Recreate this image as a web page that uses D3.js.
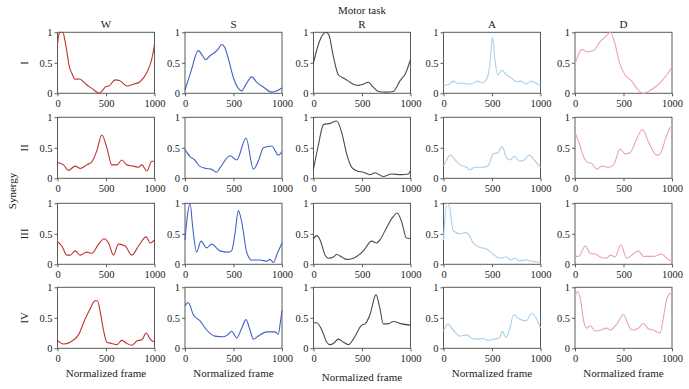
<!DOCTYPE html>
<html><head><meta charset="utf-8">
<script src="https://cdn.jsdelivr.net/npm/d3@7"></script>
<style>
body{margin:0;background:#fff;}
svg{display:block;font-family:"Liberation Serif","DejaVu Serif",serif;}
</style></head>
<body><svg id="chart" width="689" height="389"></svg>
<script>
// ---- data (frame, activation) ----
const tasks = ["W", "S", "R", "A", "D"];
const synergies = ["I", "II", "III", "IV"];
const xTicks = [0, 500, 1000];
const xTickLabels = ["0", "500", "1000"];
const yTicks = [0, 0.5, 1];
const yTickLabels = ["0", "0.5", "1"];
const taskColors = ["#c0332e", "#3f63c4", "#4a4a4a", "#a9d0ec", "#eba1b9"];

const W_I = [[0,0.8],[15,0.97],[30,1],[55,1],[75,0.88],[100,0.65],[120,0.45],[150,0.32],[182,0.23],[230,0.235],[260,0.2],[300,0.14],[354,0.08],[405,0.02],[430,0],[470,0.06],[500,0.11],[530,0.12],[595,0.22],[640,0.21],[715,0.12],[784,0.15],[850,0.19],[921,0.34],[973,0.57],[1000,0.8]];
const S_I = [[0,0.05],[60,0.35],[137,0.7],[180,0.62],[213,0.55],[260,0.62],[300,0.66],[340,0.72],[378,0.8],[410,0.75],[450,0.55],[500,0.25],[550,0.08],[584,0.04],[630,0.15],[687,0.27],[740,0.18],[810,0.1],[893,0.02],[950,0.04],[1000,0.09]];
const R_I = [[0,0.5],[50,0.8],[100,0.97],[130,1],[160,0.95],[205,0.6],[257,0.3],[308,0.25],[360,0.2],[411,0.15],[470,0.13],[514,0.15],[565,0.18],[616,0.1],[668,0.03],[753,0.02],[822,0.03],[890,0.2],[950,0.33],[1000,0.55]];
const A_I = [[0,0.13],[50,0.14],[100,0.2],[150,0.16],[200,0.17],[250,0.15],[300,0.16],[350,0.2],[400,0.17],[450,0.25],[480,0.5],[505,0.92],[530,0.55],[560,0.3],[600,0.38],[650,0.3],[700,0.25],[750,0.19],[800,0.2],[850,0.15],[900,0.2],[950,0.17],[1000,0.12]];
const D_I = [[0,0.48],[40,0.65],[72,0.72],[123,0.68],[192,0.7],[260,0.85],[329,0.95],[363,1.0],[414,0.8],[459,0.5],[517,0.3],[586,0.2],[637,0.08],[700,0],[757,0.03],[825,0.1],[894,0.2],[945,0.3],[1000,0.43]];

const W_II = [[0,0.26],[62,0.22],[113,0.13],[182,0.2],[234,0.16],[302,0.22],[354,0.27],[405,0.45],[457,0.71],[509,0.5],[560,0.22],[612,0.22],[663,0.3],[715,0.22],[784,0.2],[835,0.18],[870,0.22],[921,0.12],[973,0.28],[1000,0.28]];
const S_II = [[0,0.47],[50,0.36],[100,0.3],[150,0.2],[223,0.16],[270,0.15],[326,0.1],[361,0.17],[464,0.37],[533,0.3],[629,0.66],[705,0.15],[760,0.3],[808,0.5],[894,0.53],[962,0.38],[1000,0.44]];
const R_II = [[0,0.15],[51,0.55],[103,0.88],[171,0.9],[240,0.94],[291,0.75],[342,0.4],[394,0.18],[450,0.12],[514,0.1],[582,0.06],[634,0.09],[719,0.03],[805,0.07],[908,0.06],[976,0.07],[1000,0.13]];
const A_II = [[0,0.2],[30,0.3],[70,0.38],[120,0.3],[170,0.22],[238,0.18],[272,0.14],[323,0.18],[408,0.18],[459,0.2],[510,0.4],[561,0.42],[605,0.52],[646,0.35],[687,0.3],[731,0.36],[782,0.28],[833,0.3],[884,0.38],[935,0.3],[1000,0.18]];
const D_II = [[0,0.75],[38,0.6],[89,0.35],[123,0.27],[175,0.24],[226,0.15],[277,0.2],[346,0.18],[397,0.22],[466,0.48],[517,0.4],[568,0.42],[637,0.65],[695,0.8],[757,0.6],[842,0.38],[877,0.4],[945,0.7],[986,0.83],[1000,0.83]];

const W_III = [[0,0.37],[45,0.3],[96,0.15],[131,0.15],[182,0.22],[234,0.15],[302,0.2],[354,0.18],[423,0.33],[481,0.42],[526,0.35],[577,0.15],[629,0.33],[698,0.3],[766,0.15],[835,0.3],[914,0.45],[955,0.35],[1000,0.4]];
const S_III = [[0,0.4],[25,0.8],[52,1.0],[80,0.6],[120,0.2],[165,0.38],[223,0.27],[275,0.33],[361,0.22],[447,0.2],[480,0.22],[515,0.5],[550,0.88],[584,0.7],[636,0.2],[687,0.07],[773,0.07],[842,0.05],[876,0.08],[911,0.03],[952,0.18],[1000,0.35]];
const R_III = [[0,0.42],[34,0.47],[68,0.4],[120,0.15],[154,0.1],[205,0.12],[240,0.16],[291,0.12],[342,0.08],[411,0.1],[514,0.22],[599,0.38],[651,0.35],[685,0.4],[753,0.6],[822,0.78],[863,0.84],[908,0.7],[959,0.43],[1000,0.42]];
const A_III = [[0,0.4],[15,0.75],[35,1.0],[60,0.95],[100,0.55],[170,0.5],[221,0.52],[255,0.5],[306,0.35],[374,0.28],[442,0.25],[510,0.17],[578,0.1],[646,0.12],[697,0.07],[731,0.1],[782,0.06],[850,0.07],[918,0.05],[1000,0.03]];
const D_III = [[0,0.13],[38,0.13],[106,0.3],[158,0.18],[209,0.17],[260,0.12],[329,0.1],[363,0.15],[414,0.12],[473,0.32],[534,0.1],[586,0.15],[654,0.22],[705,0.13],[808,0.13],[894,0.17],[945,0.1],[1000,0.05]];

const W_IV = [[0,0.13],[62,0.07],[131,0.1],[216,0.22],[285,0.48],[337,0.65],[388,0.78],[412,0.78],[440,0.6],[474,0.3],[509,0.1],[560,0.08],[612,0.06],[663,0.13],[715,0.08],[766,0.05],[818,0.12],[870,0.14],[914,0.25],[955,0.15],[1000,0.1]];
const S_IV = [[0,0.7],[34,0.75],[86,0.55],[155,0.45],[223,0.3],[309,0.2],[395,0.19],[440,0.22],[481,0.28],[533,0.17],[584,0.33],[629,0.47],[670,0.3],[705,0.15],[756,0.2],[842,0.27],[928,0.27],[962,0.23],[985,0.45],[1000,0.62]];
const R_IV = [[0,0.42],[34,0.42],[86,0.3],[137,0.1],[171,0.06],[205,0.08],[257,0.15],[308,0.1],[360,0.06],[411,0.15],[497,0.38],[531,0.4],[582,0.55],[644,0.88],[685,0.65],[719,0.4],[771,0.4],[822,0.44],[908,0.4],[1000,0.38]];
const A_IV = [[0,0.28],[45,0.4],[100,0.3],[170,0.2],[238,0.22],[289,0.17],[357,0.15],[408,0.16],[459,0.13],[527,0.15],[578,0.17],[605,0.28],[646,0.18],[680,0.3],[724,0.55],[782,0.48],[850,0.45],[911,0.57],[969,0.45],[1000,0.33]];
const D_IV = [[0,0.85],[27,0.93],[62,0.75],[89,0.45],[123,0.33],[158,0.37],[209,0.28],[260,0.3],[329,0.33],[363,0.3],[432,0.4],[500,0.55],[551,0.38],[586,0.3],[654,0.33],[705,0.41],[757,0.32],[808,0.3],[877,0.25],[911,0.5],[945,0.8],[986,0.9],[1000,0.9]];

const grid = [
  [W_I, S_I, R_I, A_I, D_I],
  [W_II, S_II, R_II, A_II, D_II],
  [W_III, S_III, R_III, A_III, D_III],
  [W_IV, S_IV, R_IV, A_IV, D_IV]
];

// ---- layout ----
const colLeft = [57.5, 185, 313.5, 443.5, 575];
const rowTop = [32.3, 117.3, 203.3, 287.3];
const pw = 97, ph = 61;
const xLabelDy = [0, 0, 4, 0, 0];

const svg = d3.select("#chart");
const x = d3.scaleLinear().domain([0, 1000]).range([0, pw]);
const y = d3.scaleLinear().domain([0, 1]).range([ph, 0]);
const line = d3.line().x(d => x(d[0])).y(d => y(d[1])).curve(d3.curveMonotoneX);

svg.append("defs").append("clipPath").attr("id", "pclip")
  .append("rect").attr("x", -1).attr("y", -1).attr("width", pw + 2).attr("height", ph + 2);

const textColor = "#222";
const frameColor = "#5a5a5a";

grid.forEach((row, r) => {
  row.forEach((series, c) => {
    const g = svg.append("g").attr("transform", `translate(${colLeft[c]},${rowTop[r]})`);
    const ya = g.append("g").call(d3.axisLeft(y).tickValues(yTicks)
      .tickFormat((d, i) => yTickLabels[i]).tickSize(3).tickPadding(2).tickSizeOuter(0));
    const xa = g.append("g").attr("transform", `translate(0,${ph})`)
      .call(d3.axisBottom(x).tickValues(xTicks).tickFormat((d, i) => xTickLabels[i])
      .tickSize(3).tickPadding(3).tickSizeOuter(0));
    [ya, xa].forEach(a => {
      a.select(".domain").remove();
      a.selectAll("line").attr("stroke", frameColor);
      a.selectAll("text").attr("fill", textColor).style("font-size", "10.5px")
        .style("font-family", '"Liberation Serif","DejaVu Serif",serif');
    });
    g.append("rect").attr("width", pw).attr("height", ph)
      .attr("fill", "none").attr("stroke", frameColor).attr("stroke-width", 1);
    g.append("path").datum(series).attr("d", line).attr("clip-path", "url(#pclip)")
      .attr("fill", "none").attr("stroke", taskColors[c]).attr("stroke-width", 1.1);
  });
});

// column titles
tasks.forEach((t, c) => {
  svg.append("text").attr("x", colLeft[c] + pw / 2).attr("y", 28)
    .attr("text-anchor", "middle").attr("fill", textColor).style("font-size", "11px").text(t);
  svg.append("text").attr("x", colLeft[c] + pw / 2).attr("y", 377 + xLabelDy[c])
    .attr("text-anchor", "middle").attr("fill", textColor).style("font-size", "11px").text("Normalized frame");
});

// row labels
synergies.forEach((s, r) => {
  svg.append("text").attr("transform", `translate(28,${rowTop[r] + ph / 2}) rotate(-90)`)
    .attr("text-anchor", "middle").attr("fill", textColor).style("font-size", "11px").text(s);
});

svg.append("text").attr("x", (colLeft[2] + pw / 2)).attr("y", 13.5)
  .attr("text-anchor", "middle").attr("fill", textColor).style("font-size", "11px").text("Motor task");
svg.append("text").attr("transform", "translate(16,191) rotate(-90)")
  .attr("text-anchor", "middle").attr("fill", textColor).style("font-size", "11px").text("Synergy");
</script></body></html>
